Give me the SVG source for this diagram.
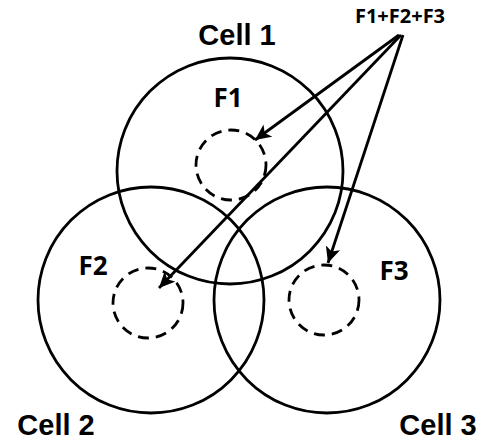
<svg xmlns="http://www.w3.org/2000/svg" width="482" height="442" viewBox="0 0 482 442">
<style>
.cell{fill:none;stroke:#000;stroke-width:2.8}
.fem{fill:none;stroke:#000;stroke-width:2.8;stroke-dasharray:11 7}
.conn{fill:none;stroke:#000;stroke-width:2.8}
.lbl{font-family:"Liberation Sans",Arial,sans-serif;font-weight:bold;font-size:29px;fill:#000;text-anchor:middle}
.flbl{font-family:"Open Sans","Noto Sans",sans-serif;font-weight:bold;fill:#000;text-anchor:middle}
</style>
<defs>
<marker id="ah" markerUnits="userSpaceOnUse" markerWidth="17" markerHeight="15" refX="16" refY="7.5" orient="auto">
<path d="M0,0 L16,7.5 L0,15 L4,7.5 Z" fill="#000"/>
</marker>
</defs>
<g id="cell1"><circle class="cell" cx="230" cy="171" r="113"/><text class="lbl" x="237" y="45">Cell 1</text></g>
<g id="cell2"><circle class="cell" cx="151" cy="300" r="113"/><text class="lbl" x="56" y="435">Cell 2</text></g>
<g id="cell3"><circle class="cell" cx="327" cy="300" r="113"/><text class="lbl" x="438" y="435">Cell 3</text></g>
<g id="f1"><circle class="fem" cx="231" cy="165" r="35"/><text class="flbl" font-size="26" x="228" y="107">F1</text></g>
<g id="f2"><circle class="fem" cx="148" cy="303" r="35"/><text class="flbl" font-size="26" x="93" y="275">F2</text></g>
<g id="f3"><circle class="fem" cx="324" cy="300" r="35"/><text class="flbl" font-size="26" x="394" y="280">F3</text></g>
<g id="src"><text class="flbl" font-size="20" x="400" y="23">F1+F2+F3</text></g>
<g id="connectors">
<line class="conn" x1="399" y1="35" x2="255" y2="140" marker-end="url(#ah)"/>
<line class="conn" x1="401" y1="35" x2="159" y2="288" marker-end="url(#ah)"/>
<line class="conn" x1="403" y1="35" x2="328" y2="263" marker-end="url(#ah)"/>
</g>
</svg>
